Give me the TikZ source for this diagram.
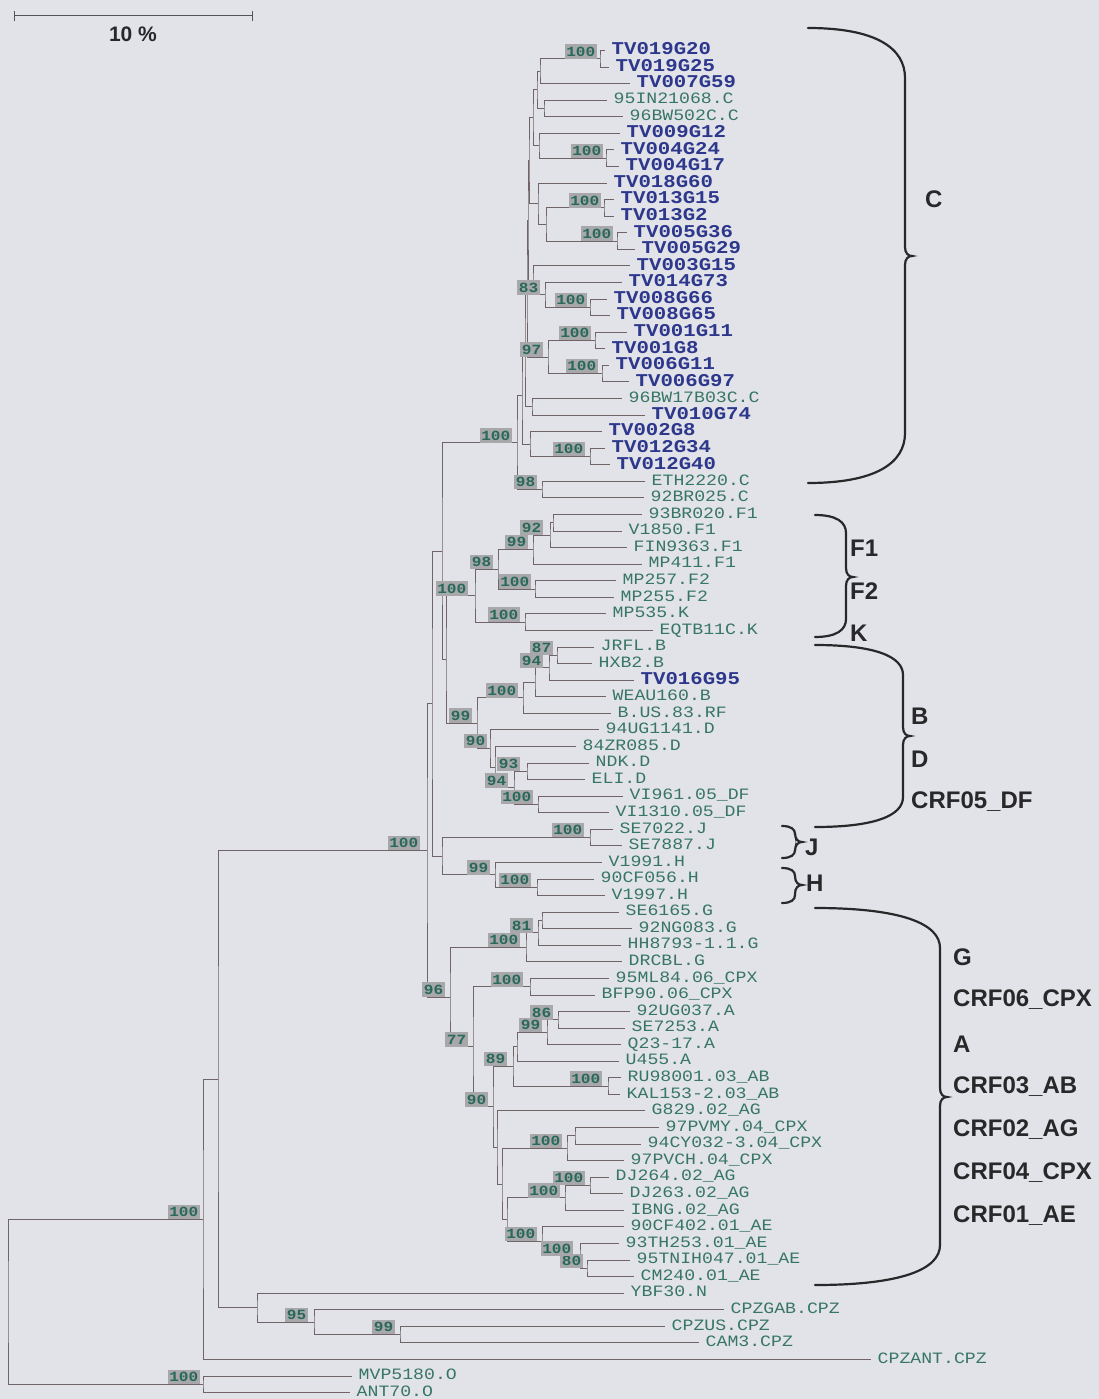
\documentclass[tikz,border=0pt]{standalone}
\usepackage{fontspec}
\usetikzlibrary{calc}
\newfontfamily\monof{Liberation Mono}[FakeStretch=1.15]
\newfontfamily\sansf{Liberation Sans}
\definecolor{bgc}{RGB}{226,227,232}
\definecolor{treec}{RGB}{112,100,102}
\definecolor{leafg}{RGB}{55,118,100}
\definecolor{leafb}{RGB}{45,55,140}
\definecolor{bootfill}{RGB}{168,168,170}
\definecolor{bootc}{RGB}{40,105,90}
\definecolor{darkc}{RGB}{40,40,42}
\newcommand\leafGf{\monof\fontsize{15.8}{16}\selectfont}
\newcommand\leafBf{\monof\bfseries\fontsize{18}{18}\selectfont}
\newcommand\bootFf{\monof\bfseries\fontsize{14}{14}\selectfont}
\newcommand\cladeFf{\sansf\bfseries\fontsize{24}{24}\selectfont}
\newcommand\sbFf{\sansf\bfseries\fontsize{21}{21}\selectfont}
\tikzset{
 tree/.style={draw=treec, line width=1pt},
 lg/.style={anchor=west, inner xsep=6.5pt, inner ysep=0pt, text height=10.4pt, text depth=3pt, font=\leafGf, text=leafg},
 lb/.style={anchor=west, inner xsep=6.5pt, inner ysep=0pt, text height=11.9pt, text depth=3.4pt, font=\leafBf, text=leafb},
 boot/.style={anchor=south east, fill=bootfill, text=bootc, font=\bootFf, inner xsep=1.5pt, inner ysep=2.5pt, text height=9.5pt, text depth=0pt},
 clade/.style={anchor=west, inner sep=0pt, font=\cladeFf, text=darkc},
 bracec/.style={draw=darkc, line width=2.2pt, line cap=round},
 sbar/.style={draw=darkc!80, line width=1pt},
}
\newcommand\leaf[4]{\coordinate (t#1) at ({#2-8},{50.5+(#1-1)*16.57}); \node[#3] (l#1) at (t#1) {#4};}
\newcommand\inode[4]{\path let \p1=(#3), \p2=(#4) in coordinate (#1) at (#2,{0.5*\y1+0.5*\y2}); \draw[tree] (#3) -| (#1) |- (#4);}
\newcommand\bs[3][5]{\node[boot] (b#2) at ([xshift=-#1pt]#2) {#3};}
\newcommand\cbrace[6]{\draw[bracec] (#1,#2) .. controls ({#4-0.3*(#4-#1)},#2) and (#4,{#2+0.4*#6}) .. (#4,{#2+#6}) -- (#4,{#5-9}) .. controls (#4,{#5-3}) and ({#4+3},#5) .. ({#4+7},#5) .. controls ({#4+3},#5) and (#4,{#5+3}) .. (#4,{#5+9}) -- (#4,{#3-#6}) .. controls (#4,{#3-0.4*#6}) and ({#4-0.3*(#4-#1)},#3) .. (#1,#3);}
\begin{document}
\begin{tikzpicture}[x=1pt,y=-1pt]
\fill[bgc] (0,0) rectangle (1099,1399);
\useasboundingbox (0,0) rectangle (1099,1399);
% leaves
\leaf{1}{613}{lb}{TV019G20}
\leaf{2}{617}{lb}{TV019G25}
\leaf{3}{638}{lb}{TV007G59}
\leaf{4}{615}{lg}{95IN21068.C}
\leaf{5}{631}{lg}{96BW502C.C}
\leaf{6}{628}{lb}{TV009G12}
\leaf{7}{622}{lb}{TV004G24}
\leaf{8}{627}{lb}{TV004G17}
\leaf{9}{615}{lb}{TV018G60}
\leaf{10}{622}{lb}{TV013G15}
\leaf{11}{622}{lb}{TV013G2}
\leaf{12}{635}{lb}{TV005G36}
\leaf{13}{643}{lb}{TV005G29}
\leaf{14}{638}{lb}{TV003G15}
\leaf{15}{630}{lb}{TV014G73}
\leaf{16}{615}{lb}{TV008G66}
\leaf{17}{618}{lb}{TV008G65}
\leaf{18}{635}{lb}{TV001G11}
\leaf{19}{613}{lb}{TV001G8}
\leaf{20}{617}{lb}{TV006G11}
\leaf{21}{637}{lb}{TV006G97}
\leaf{22}{630}{lg}{96BW17B03C.C}
\leaf{23}{653}{lb}{TV010G74}
\leaf{24}{610}{lb}{TV002G8}
\leaf{25}{613}{lb}{TV012G34}
\leaf{26}{618}{lb}{TV012G40}
\leaf{27}{653}{lg}{ETH2220.C}
\leaf{28}{652}{lg}{92BR025.C}
\leaf{29}{650}{lg}{93BR020.F1}
\leaf{30}{630}{lg}{V1850.F1}
\leaf{31}{635}{lg}{FIN9363.F1}
\leaf{32}{650}{lg}{MP411.F1}
\leaf{33}{624}{lg}{MP257.F2}
\leaf{34}{622}{lg}{MP255.F2}
\leaf{35}{614}{lg}{MP535.K}
\leaf{36}{661}{lg}{EQTB11C.K}
\leaf{37}{602}{lg}{JRFL.B}
\leaf{38}{600}{lg}{HXB2.B}
\leaf{39}{642}{lb}{TV016G95}
\leaf{40}{614}{lg}{WEAU160.B}
\leaf{41}{619}{lg}{B.US.83.RF}
\leaf{42}{607}{lg}{94UG1141.D}
\leaf{43}{584}{lg}{84ZR085.D}
\leaf{44}{597}{lg}{NDK.D}
\leaf{45}{593}{lg}{ELI.D}
\leaf{46}{631}{lg}{VI961.05\_DF}
\leaf{47}{617}{lg}{VI1310.05\_DF}
\leaf{48}{621}{lg}{SE7022.J}
\leaf{49}{630}{lg}{SE7887.J}
\leaf{50}{610}{lg}{V1991.H}
\leaf{51}{602}{lg}{90CF056.H}
\leaf{52}{613}{lg}{V1997.H}
\leaf{53}{627}{lg}{SE6165.G}
\leaf{54}{640}{lg}{92NG083.G}
\leaf{55}{629}{lg}{HH8793-1.1.G}
\leaf{56}{630}{lg}{DRCBL.G}
\leaf{57}{617}{lg}{95ML84.06\_CPX}
\leaf{58}{603}{lg}{BFP90.06\_CPX}
\leaf{59}{638}{lg}{92UG037.A}
\leaf{60}{633}{lg}{SE7253.A}
\leaf{61}{629}{lg}{Q23-17.A}
\leaf{62}{627}{lg}{U455.A}
\leaf{63}{629}{lg}{RU98001.03\_AB}
\leaf{64}{628}{lg}{KAL153-2.03\_AB}
\leaf{65}{653}{lg}{G829.02\_AG}
\leaf{66}{667}{lg}{97PVMY.04\_CPX}
\leaf{67}{649}{lg}{94CY032-3.04\_CPX}
\leaf{68}{632}{lg}{97PVCH.04\_CPX}
\leaf{69}{617}{lg}{DJ264.02\_AG}
\leaf{70}{631}{lg}{DJ263.02\_AG}
\leaf{71}{632}{lg}{IBNG.02\_AG}
\leaf{72}{632}{lg}{90CF402.01\_AE}
\leaf{73}{627}{lg}{93TH253.01\_AE}
\leaf{74}{638}{lg}{95TNIH047.01\_AE}
\leaf{75}{642}{lg}{CM240.01\_AE}
\leaf{76}{632}{lg}{YBF30.N}
\leaf{77}{732}{lg}{CPZGAB.CPZ}
\leaf{78}{673}{lg}{CPZUS.CPZ}
\leaf{79}{707}{lg}{CAM3.CPZ}
\leaf{80}{879}{lg}{CPZANT.CPZ}
\leaf{81}{360}{lg}{MVP5180.O}
\leaf{82}{358}{lg}{ANT70.O}
% C clade
\inode{p1}{600}{t1}{t2}
\inode{na}{540}{p1}{t3}
\inode{p95}{544}{t4}{t5}
\inode{nb}{537}{na}{p95}
\inode{p4}{606}{t7}{t8}
\inode{nd}{539}{t6}{p4}
\inode{nc}{533}{nb}{nd}
\inode{p13}{604}{t10}{t11}
\inode{p5}{617}{t12}{t13}
\inode{ng}{546}{p13}{p5}
\inode{nf}{538}{t9}{ng}
\inode{p8}{590}{t16}{t17}
\inode{n83}{545}{t15}{p8}
\inode{nh}{533}{t14}{n83}
\inode{p1a}{595}{t18}{t19}
\inode{p6}{602}{t20}{t21}
\inode{n97}{548}{p1a}{p6}
\inode{ni}{532}{t22}{t23}
\inode{p12}{590}{t25}{t26}
\inode{nj}{530}{t24}{p12}
\inode{T6}{529}{nc}{nf}
\inode{T5}{528}{T6}{nh}
\inode{T4}{527}{T5}{n97}
\inode{T3}{525}{T4}{ni}
\inode{Tc}{522}{T3}{nj}
\inode{C98}{542}{t27}{t28}
\inode{Cm}{517}{Tc}{C98}
% F / K
\inode{F1a}{553}{t29}{t30}
\inode{F1b}{550}{F1a}{t31}
\inode{F1c}{533}{F1b}{t32}
\inode{F2}{535}{t33}{t34}
\inode{F1F2}{498}{F1c}{F2}
\inode{Kk}{525}{t35}{t36}
\inode{FK}{475}{F1F2}{Kk}
% B / D
\inode{B87}{557}{t37}{t38}
\inode{B94}{549}{B87}{t39}
\inode{B100a}{535}{B94}{t40}
\inode{B100b}{523}{B100a}{t41}
\inode{D93}{527}{t44}{t45}
\inode{DF}{538}{t46}{t47}
\inode{D94}{514}{D93}{DF}
\inode{Da}{495}{t43}{D94}
\inode{D90}{490}{t42}{Da}
\inode{BD}{477}{B100b}{D90}
\inode{Zz}{446}{FK}{BD}
\inode{Ww}{442}{Cm}{Zz}
% J / H
\inode{Jj}{590}{t48}{t49}
\inode{H100}{537}{t51}{t52}
\inode{Hh}{495}{t50}{H100}
\inode{JH}{442}{Jj}{Hh}
\inode{Vv}{432}{Ww}{JH}
% G ... AE
\inode{Ga}{542}{t53}{t54}
\inode{G81}{538}{Ga}{t55}
\inode{G100}{526}{G81}{t56}
\inode{CPX06}{530}{t57}{t58}
\inode{A86}{558}{t59}{t60}
\inode{A99}{547}{A86}{t61}
\inode{Aa}{517}{A99}{t62}
\inode{AB}{608}{t63}{t64}
\inode{N89}{513}{Aa}{AB}
\inode{CPX04a}{575}{t66}{t67}
\inode{CPX04}{567}{CPX04a}{t68}
\inode{DJ}{590}{t69}{t70}
\inode{AG02}{565}{DJ}{t71}
\inode{AE80}{587}{t74}{t75}
\inode{AEb}{580}{t73}{AE80}
\inode{AE}{542}{t72}{AEb}
\inode{AGAE}{507}{AG02}{AE}
\inode{N90d}{502}{CPX04}{AGAE}
\inode{N90b}{497}{t65}{N90d}
\inode{N90}{493}{N89}{N90b}
\inode{N77}{473}{CPX06}{N90}
\inode{N96}{450}{G100}{N77}
\inode{Xx}{427}{Vv}{N96}
% outgroups
\inode{C99}{400}{t78}{t79}
\inode{C95}{314}{t77}{C99}
\inode{CPZ1}{257}{t76}{C95}
\inode{Bb}{218}{Xx}{CPZ1}
\inode{Ab}{203}{Bb}{t80}
\inode{Ob}{203}{t81}{t82}
\inode{Root}{8}{Ab}{Ob}
% bootstrap values
\bs[3]{p1}{100}
\bs[3]{p4}{100}
\bs[3]{p13}{100}
\bs[4]{p5}{100}
\bs[3]{p8}{100}
\bs[5]{n83}{83}
\bs[4]{p1a}{100}
\bs[4]{p6}{100}
\bs[5]{n97}{97}
\bs[5]{p12}{100}
\bs[5]{C98}{98}
\bs[5]{Cm}{100}
\bs[7]{F1b}{92}
\bs[5]{F1c}{99}
\bs[4]{F2}{100}
\bs[5]{F1F2}{98}
\bs[5]{Kk}{100}
\bs[7]{FK}{100}
\bs[4]{B87}{87}
\bs[6]{B94}{94}
\bs[5]{B100b}{100}
\bs[7]{D93}{93}
\bs[5]{DF}{100}
\bs[6]{D94}{94}
\bs[3]{D90}{90}
\bs[5]{BD}{99}
\bs[6]{Jj}{100}
\bs[5]{Hh}{99}
\bs[6]{H100}{100}
\bs[5]{G81}{81}
\bs[6]{G100}{100}
\bs[7]{CPX06}{100}
\bs[5]{A86}{86}
\bs[5]{A99}{99}
\bs[6]{AB}{100}
\bs[6]{N89}{89}
\bs[5]{CPX04}{100}
\bs[5]{DJ}{100}
\bs[5]{AG02}{100}
\bs[4]{AE80}{80}
\bs[7]{AEb}{100}
\bs[5]{AE}{100}
\bs[5]{N90}{90}
\bs[5]{N77}{77}
\bs[5]{N96}{96}
\bs[7]{Xx}{100}
\bs[5]{C99}{99}
\bs[6]{C95}{95}
\bs[3]{Ab}{100}
\bs[3]{Ob}{100}
% braces
\cbrace{808}{28}{483}{905}{256}{50}
\cbrace{815}{515}{637}{846}{577}{18}
\cbrace{815}{645}{827}{903}{736}{30}
\cbrace{782}{826}{858}{795}{842}{8}
\cbrace{782}{868}{903}{795}{885}{8}
\cbrace{815}{908}{1285}{940}{1097}{40}
% clade labels
\node[clade] (cC) at (925,199) {C};
\node[clade] (cF1) at (850,548) {F1};
\node[clade] (cF2) at (850,591) {F2};
\node[clade] (cK) at (850,633) {K};
\node[clade] (cB) at (911,716) {B};
\node[clade] (cD) at (911,759) {D};
\node[clade] (cDF) at (911,802) {CRF05\_DF};
\node[clade] (cJ) at (805,847) {J};
\node[clade] (cH) at (806,883) {H};
\node[clade] (cG) at (953,957) {G};
\node[clade] (c06) at (953,1000) {CRF06\_CPX};
\node[clade] (cA) at (953,1044) {A};
\node[clade] (c03) at (953,1087) {CRF03\_AB};
\node[clade] (c02) at (953,1130) {CRF02\_AG};
\node[clade] (c04) at (953,1173) {CRF04\_CPX};
\node[clade] (c01) at (953,1216) {CRF01\_AE};
% scale bar
\coordinate (sbL) at (14,16);
\coordinate (sbR) at (252,16);
\draw[sbar] (sbL) -- (sbR);
\draw[sbar] ([yshift=-5pt]sbL) -- ([yshift=5pt]sbL);
\draw[sbar] ([yshift=-5pt]sbR) -- ([yshift=5pt]sbR);
\node[font=\sbFf, text=darkc, inner sep=0pt] (sbt) at (133,34) {10 \%};
\end{tikzpicture}
\end{document}
